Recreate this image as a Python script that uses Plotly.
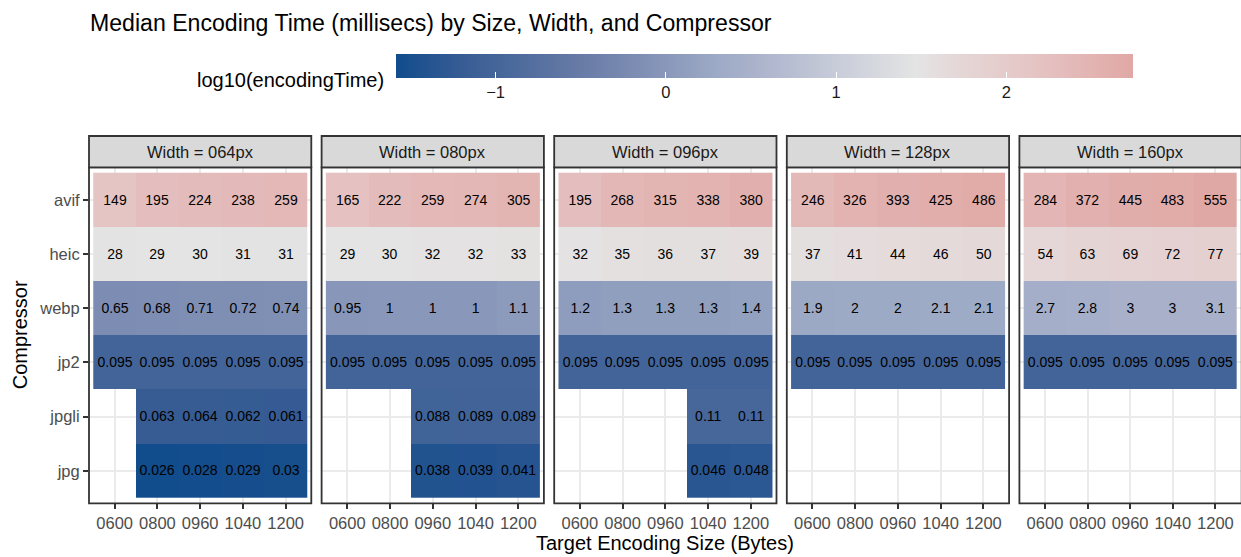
import numpy as np
import plotly.graph_objects as go

# ---- data -------------------------------------------------------------
sizes = ["0600", "0800", "0960", "1040", "1200"]
compressors = ["avif", "heic", "webp", "jp2", "jpgli", "jpg"]  # top to bottom
widths = ["064", "080", "096", "128", "160"]

# median encoding time (ms); rows follow `compressors`, columns follow `sizes`
time_064 = [
    [149, 195, 224, 238, 259],
    [28, 29, 30, 31, 31],
    [0.65, 0.68, 0.71, 0.72, 0.74],
    [0.095, 0.095, 0.095, 0.095, 0.095],
    [None, 0.063, 0.064, 0.062, 0.061],
    [None, 0.026, 0.028, 0.029, 0.03],
]
time_080 = [
    [165, 222, 259, 274, 305],
    [29, 30, 32, 32, 33],
    [0.95, 1, 1, 1, 1.1],
    [0.095, 0.095, 0.095, 0.095, 0.095],
    [None, None, 0.088, 0.089, 0.089],
    [None, None, 0.038, 0.039, 0.041],
]
time_096 = [
    [195, 268, 315, 338, 380],
    [32, 35, 36, 37, 39],
    [1.2, 1.3, 1.3, 1.3, 1.4],
    [0.095, 0.095, 0.095, 0.095, 0.095],
    [None, None, None, 0.11, 0.11],
    [None, None, None, 0.046, 0.048],
]
time_128 = [
    [246, 326, 393, 425, 486],
    [37, 41, 44, 46, 50],
    [1.9, 2, 2, 2.1, 2.1],
    [0.095, 0.095, 0.095, 0.095, 0.095],
    [None, None, None, None, None],
    [None, None, None, None, None],
]
time_160 = [
    [284, 372, 445, 483, 555],
    [54, 63, 69, 72, 77],
    [2.7, 2.8, 3, 3, 3.1],
    [0.095, 0.095, 0.095, 0.095, 0.095],
    [None, None, None, None, None],
    [None, None, None, None, None],
]
panels = [time_064, time_080, time_096, time_128, time_160]

legend_ticks = [-1, 0, 1, 2]

# ---- colour scale (log10 ms -> colour) --------------------------------
scale_logs = [-1.585, -1.2, -1.0, -0.5, -0.19, 0.3, 0.48, 1.0, 1.47, 1.7, 2.17, 2.744]
scale_rgbs = [
    (17, 76, 140), (55, 92, 148), (68, 101, 153), (104, 123, 166),
    (124, 140, 178), (157, 170, 198), (168, 176, 202), (200, 204, 217),
    (228, 228, 228), (229, 216, 216), (229, 196, 196), (224, 168, 165),
]

# ---- geometry (pixels) -------------------------------------------------
W, H = 1241, 557
PANEL_L0, PANEL_W, PANEL_STEP = 89.0, 222.3, 232.6
PANEL_TOP, PANEL_BOT = 167.3, 503.3
STRIP_TOP = 136.0
CB_L, CB_LEN, CB_TOP, CB_THICK = 396.0, 737.0, 54.0, 24.0

FONT = "Liberation Sans, Arial, Helvetica, sans-serif"


def fx(p):
    return p / W


def fy(p):
    return 1 - p / H


all_logs = np.log10([v for t in panels for row in t for v in row if v is not None])
zmin, zmax = float(all_logs.min()), float(all_logs.max())

colorscale = []
for v, (r, g, b) in zip(scale_logs, scale_rgbs):
    pos = min(max((v - zmin) / (zmax - zmin), 0.0), 1.0)
    colorscale.append([pos, f"rgb({r},{g},{b})"])
colorscale[0][0] = 0.0
colorscale[-1][0] = 1.0

fig = go.Figure()
shapes = []
annotations = []

for i, (w, tbl) in enumerate(zip(widths, panels)):
    z = [[np.log10(v) if v is not None else None for v in row] for row in tbl]
    txt = [[(f"{v:g}" if v is not None else "") for v in row] for row in tbl]
    xa = "x" if i == 0 else f"x{i + 1}"
    ya = "y" if i == 0 else f"y{i + 1}"
    fig.add_trace(go.Heatmap(
        x=sizes, y=compressors, z=z, text=txt,
        texttemplate="%{text}",
        textfont=dict(family=FONT, size=14, color="black"),
        coloraxis="coloraxis", xaxis=xa, yaxis=ya,
        hoverinfo="skip", xgap=0, ygap=0,
    ))

    left = PANEL_L0 + i * PANEL_STEP
    right = min(left + PANEL_W, W)
    xkey = "xaxis" if i == 0 else f"xaxis{i + 1}"
    ykey = "yaxis" if i == 0 else f"yaxis{i + 1}"
    fig.layout[xkey] = dict(
        domain=[fx(left), fx(right)], anchor=ya, type="category",
        categoryorder="array", categoryarray=sizes, range=[-0.6, 4.6],
        showgrid=True, gridcolor="#EBEBEB", gridwidth=1.6,
        zeroline=False, showline=False,
        ticks="outside", ticklen=5, tickwidth=1.6, tickcolor="#333333",
        tickfont=dict(family=FONT, size=16.5, color="#4D4D4D"),
        fixedrange=True,
    )
    fig.layout[ykey] = dict(
        domain=[fy(PANEL_BOT), fy(PANEL_TOP)], anchor=xa, type="category",
        categoryorder="array", categoryarray=compressors[::-1], range=[-0.6, 5.6],
        showgrid=True, gridcolor="#EBEBEB", gridwidth=1.6,
        zeroline=False, showline=False,
        ticks="outside" if i == 0 else "", ticklen=5, tickwidth=1.6, tickcolor="#333333",
        showticklabels=(i == 0),
        tickfont=dict(family=FONT, size=16.5, color="#4D4D4D"),
        fixedrange=True,
    )

    # panel border
    shapes.append(dict(
        type="rect", xref="paper", yref="paper",
        x0=fx(left), x1=fx(left + PANEL_W), y0=fy(PANEL_BOT), y1=fy(PANEL_TOP),
        line=dict(color="#333333", width=1.8), fillcolor="rgba(0,0,0,0)", layer="above",
    ))
    # facet strip
    shapes.append(dict(
        type="rect", xref="paper", yref="paper",
        x0=fx(left), x1=fx(left + PANEL_W), y0=fy(PANEL_TOP), y1=fy(STRIP_TOP),
        line=dict(color="#333333", width=1.8), fillcolor="#D9D9D9", layer="above",
    ))
    annotations.append(dict(
        text=f"Width = {w}px", xref="paper", yref="paper",
        x=fx(left + PANEL_W / 2), y=fy((STRIP_TOP + PANEL_TOP) / 2),
        xanchor="center", yanchor="middle", showarrow=False,
        font=dict(family=FONT, size=16.5, color="#1A1A1A"),
    ))

# white tick marks along the top edge of the colour bar
for t in legend_ticks:
    xp = CB_L + (t - zmin) / (zmax - zmin) * CB_LEN
    shapes.append(dict(
        type="line", xref="paper", yref="paper",
        x0=fx(xp), x1=fx(xp), y0=fy(CB_TOP), y1=fy(CB_TOP + 6),
        line=dict(color="white", width=1.2), layer="above",
    ))

annotations += [
    dict(text="Median Encoding Time (millisecs) by Size, Width, and Compressor",
         xref="paper", yref="paper", x=fx(88), y=fy(23), xanchor="left", yanchor="middle",
         showarrow=False, font=dict(family=FONT, size=23.1, color="black")),
    dict(text="log10(encodingTime)", xref="paper", yref="paper",
         x=fx(386), y=fy(80), xanchor="right", yanchor="middle",
         showarrow=False, font=dict(family=FONT, size=20, color="black")),
    dict(text="Target Encoding Size (Bytes)", xref="paper", yref="paper",
         x=fx((PANEL_L0 + PANEL_L0 + 4 * PANEL_STEP + PANEL_W) / 2), y=fy(543),
         xanchor="center", yanchor="middle",
         showarrow=False, font=dict(family=FONT, size=20, color="black")),
    dict(text="Compressor", xref="paper", yref="paper", x=fx(20),
         y=fy((PANEL_TOP + PANEL_BOT) / 2), xanchor="center", yanchor="middle",
         textangle=-90, showarrow=False, font=dict(family=FONT, size=20, color="black")),
]

fig.update_layout(
    width=W, height=H,
    margin=dict(l=0, r=0, t=0, b=0),
    paper_bgcolor="white", plot_bgcolor="white",
    showlegend=False,
    font=dict(family=FONT),
    coloraxis=dict(
        colorscale=colorscale, cmin=zmin, cmax=zmax,
        colorbar=dict(
            orientation="h", x=fx(CB_L), xanchor="left", y=fy(CB_TOP), yanchor="top",
            len=CB_LEN, lenmode="pixels", thickness=CB_THICK, thicknessmode="pixels",
            xpad=0, ypad=0, outlinewidth=0,
            ticks="inside", ticklen=6, tickwidth=1.2, tickcolor="white",
            tickvals=legend_ticks,
            tickfont=dict(family=FONT, size=16.5, color="#1A1A1A"),
            title=dict(text=""),
        ),
    ),
    shapes=shapes,
    annotations=annotations,
)

fig.write_html("out.html")
